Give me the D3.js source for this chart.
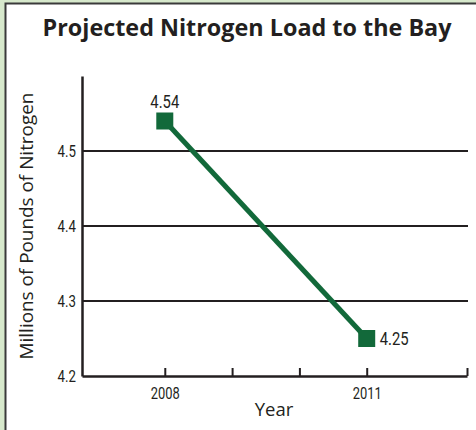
<!DOCTYPE html>
<html>
<head>
<meta charset="utf-8">
<script src="https://cdn.jsdelivr.net/npm/d3@7"></script>
<style>
  html, body { margin: 0; padding: 0; background: #d7e9cc; }
  svg { display: block; }
</style>
</head>
<body>
<div id="chart"></div>
<script>
// data
const years = [2008, 2011];
const loads = [4.54, 4.25];
const yTicks = [4.2, 4.3, 4.4, 4.5];
const xTicks = [2008, 2009, 2010, 2011];
const xLabels = ["2008", "2011"];

const W = 476, H = 430;
const green = "#12693a";
const ink = "#231f20";
const narrow = "Roboto, 'Open Sans', sans-serif";
const body = "'Open Sans', 'Noto Sans', sans-serif";

const svg = d3.select("#chart").append("svg")
  .attr("width", W).attr("height", H)
  .attr("viewBox", `0 0 ${W} ${H}`);

// panel
svg.append("rect").attr("width", W).attr("height", H).attr("fill", "#d7e9cc");
svg.append("rect").attr("x", 5).attr("y", 3).attr("width", W).attr("height", H)
  .attr("fill", "#fff");
svg.append("path").attr("d", `M5.5,${H} V3.5 H${W}`)
  .attr("fill", "none").attr("stroke", "#3a3a3a").attr("stroke-width", 2);

const x = d3.scaleLinear().domain([2006.77, 2012.49]).range([82, 467]);
const y = d3.scaleLinear().domain([4.2, 4.6]).range([376, 76]);

// fit a text to a measured width
function fit(sel, target) {
  const w = sel.node().getComputedTextLength();
  const fs = parseFloat(sel.attr("font-size"));
  sel.attr("font-size", (fs * target / w).toFixed(2));
}
// squeeze glyphs to look like a condensed face
function condense(sel, k) {
  sel.each(function () {
    const w = this.getComputedTextLength();
    if (w > 0) {
      d3.select(this).attr("textLength", (w * k).toFixed(1))
        .attr("lengthAdjust", "spacingAndGlyphs");
    }
  });
}

const title = svg.append("text")
  .attr("x", 247).attr("y", 36)
  .attr("text-anchor", "middle")
  .attr("font-family", body).attr("font-weight", 700)
  .attr("font-size", 20).attr("fill", ink)
  .text("Projected Nitrogen Load to the Bay");
fit(title, 409);

// gridlines
svg.append("g")
  .selectAll("line")
  .data(yTicks.slice(1))
  .join("line")
  .attr("x1", x.range()[0]).attr("x2", 468)
  .attr("y1", (d) => y(d)).attr("y2", (d) => y(d))
  .attr("stroke", ink).attr("stroke-width", 2);

// y axis
const yAxis = svg.append("g")
  .attr("transform", `translate(${x.range()[0]},0)`)
  .call(d3.axisLeft(y).tickValues(yTicks).tickSize(0).tickPadding(6)
    .tickFormat(d3.format(".1f")));
yAxis.select(".domain").attr("stroke", ink).attr("stroke-width", 2.5);
yAxis.selectAll("text").attr("font-family", narrow).attr("font-size", 17).attr("fill", ink)
  .call(condense, 0.78);

// x axis with upward ticks
const xAxis = svg.append("g")
  .attr("transform", `translate(0,${y(4.2)})`)
  .call(d3.axisBottom(x).tickValues(xTicks.concat([x.domain()[1]]))
    .tickSizeInner(-8).tickSizeOuter(0).tickPadding(11)
    .tickFormat((d) => (xLabels.includes(String(d)) ? String(d) : "")));
xAxis.select(".domain").attr("stroke", ink).attr("stroke-width", 2.5);
xAxis.selectAll(".tick line").attr("stroke", ink).attr("stroke-width", 2);
xAxis.selectAll("text").attr("font-family", narrow).attr("font-size", 17).attr("fill", ink)
  .call(condense, 0.76);

// axis titles
const yTitle = svg.append("text")
  .attr("transform", `translate(33,226) rotate(-90)`)
  .attr("text-anchor", "middle")
  .attr("font-family", body).attr("font-size", 17).attr("fill", ink)
  .text("Millions of Pounds of Nitrogen");
fit(yTitle, 267);

svg.append("text")
  .attr("x", 274).attr("y", 416)
  .attr("text-anchor", "middle")
  .attr("font-family", body).attr("font-size", 18.5).attr("fill", ink)
  .text("Year");

// series
const pts = years.map((yr, i) => ({ year: yr, value: loads[i] }));
svg.append("path")
  .datum(pts)
  .attr("d", d3.line().x((d) => x(d.year)).y((d) => y(d.value)))
  .attr("fill", "none").attr("stroke", green).attr("stroke-width", 5);

svg.append("g")
  .selectAll("rect")
  .data(pts)
  .join("rect")
  .attr("x", (d) => x(d.year) - 8.5).attr("y", (d) => y(d.value) - 8.5)
  .attr("width", 17).attr("height", 17)
  .attr("fill", green);

// value labels
svg.append("text")
  .attr("x", x(pts[0].year)).attr("y", y(pts[0].value) - 13)
  .attr("text-anchor", "middle")
  .attr("font-family", narrow).attr("font-size", 19).attr("fill", ink)
  .text(pts[0].value.toFixed(2))
  .call(condense, 0.78);
svg.append("text")
  .attr("x", x(pts[1].year) + 13).attr("y", y(pts[1].value))
  .attr("dy", "0.35em")
  .attr("font-family", narrow).attr("font-size", 19).attr("fill", ink)
  .text(pts[1].value.toFixed(2))
  .call(condense, 0.78);
</script>
</body>
</html>
